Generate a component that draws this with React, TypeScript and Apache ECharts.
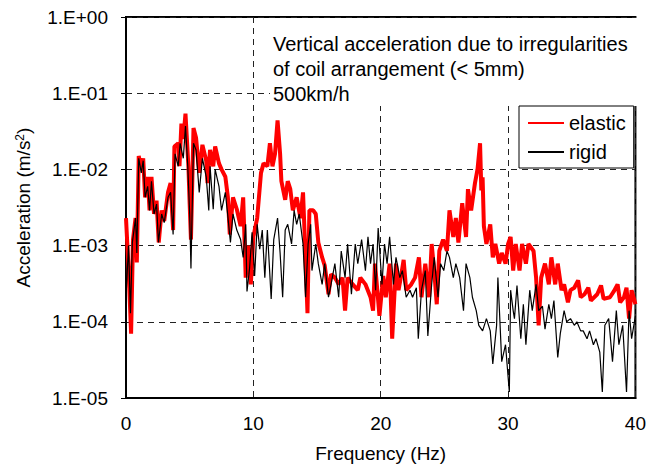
import React, { useEffect, useRef } from "react";
import * as echarts from "echarts";

const xTicks = [0, 10, 20, 30, 40];
const yTickLabels = ["1.E-05", "1.E-04", "1.E-03", "1.E-02", "1.E-01", "1.E+00"];
const seriesNames = ["elastic", "rigid"];
const annotationLines = [
  "Vertical acceleration due to irregularities",
  "of coil arrangement (< 5mm)",
  "500km/h",
];

const elasticFreq = [
  0.0, 0.2, 0.4, 0.55, 0.75, 0.85, 1.0, 1.2, 1.35, 1.5, 1.7, 1.85, 2.0, 2.2, 2.4, 2.57, 2.8, 3.0, 3.3, 3.5,
  3.7, 3.8, 4.1, 4.2, 4.35, 4.5, 4.67, 4.9, 5.0, 5.1, 5.3, 5.5, 5.75, 6.0, 6.3, 6.4, 6.6, 6.85, 7.0, 7.3,
  7.5, 7.8, 8.0, 8.15, 8.4, 8.7, 9.0, 9.2, 9.4, 9.6, 9.8, 10.0, 10.3, 10.6, 10.8, 11.1, 11.3, 11.5, 11.7, 11.9,
  12.1, 12.2, 12.5, 12.7, 12.9, 13.1, 13.4, 13.7, 13.9, 14.05, 14.25, 14.4, 14.7, 14.9, 15.1, 15.4, 15.6, 15.9, 16.1, 16.4,
  16.7, 17.0, 17.2, 17.4, 17.8, 18.2, 18.4, 18.8, 19.2, 19.4, 19.55, 19.7, 19.9, 20.2, 20.4, 20.7, 20.9, 21.2, 21.4, 21.6,
  21.8, 22.0, 22.4, 22.7, 23.0, 23.2, 23.5, 23.8, 24.0, 24.2, 24.4, 24.6, 24.9, 25.2, 25.4, 25.7, 25.9, 26.1, 26.4, 26.7,
  26.85, 27.1, 27.4, 27.6, 27.8, 27.9, 28.0, 28.1, 28.3, 28.6, 28.8, 29.0, 29.3, 29.5, 29.8, 30.0, 30.2, 30.4, 30.6, 30.9,
  31.1, 31.4, 31.6, 32.0, 32.2, 32.4, 32.6, 32.9, 33.2, 33.4, 33.7, 33.9, 34.2, 34.4, 34.7, 34.9, 35.2, 35.5, 35.7, 36.0,
  36.3, 36.5, 37.0, 37.3, 37.5, 38.0, 38.3, 38.6, 38.8, 39.1, 39.3, 39.5, 39.7, 40.0,
];
const elasticVals = [
  2.3e-3, 5e-4, 7e-5, 1.2e-3, 2.3e-3, 6e-4, 1.5e-2, 1.0e-2, 1.4e-2, 4.3e-3, 8e-3, 2.9e-3, 8e-3, 2.6e-3, 3.9e-3, 1.1e-3, 2.9e-3, 2.1e-3, 5e-3, 6.6e-3,
  1.6e-3, 2e-2, 2.2e-2, 1.1e-2, 4e-2, 2.5e-2, 5.4e-2, 1.1e-2, 3.5e-3, 1.2e-3, 3.5e-2, 2.6e-2, 9e-3, 2.1e-2, 1.3e-2, 6.6e-3, 1.8e-2, 1.1e-2, 2e-2, 1.2e-2,
  1.0e-2, 8e-3, 4.3e-3, 1.4e-3, 4.3e-3, 3e-3, 1.8e-3, 4.3e-3, 3.8e-4, 1e-3, 3.1e-4, 1.3e-3, 2.3e-3, 9e-3, 1.2e-2, 1.1e-2, 2.2e-2, 1.1e-2, 1.6e-2, 4.4e-2,
  1.6e-2, 7e-3, 4e-3, 7e-3, 5.5e-3, 2.9e-3, 4.3e-3, 2.3e-3, 5e-3, 1.1e-3, 1.3e-4, 2.9e-3, 2.9e-3, 2.6e-3, 1.1e-3, 7e-4, 5.5e-4, 2.3e-4, 4.2e-4, 3.8e-4,
  3.1e-4, 3.8e-4, 1.4e-4, 3.8e-4, 3.1e-4, 2.6e-4, 3.8e-4, 3.1e-4, 2.1e-4, 1.4e-4, 5.8e-4, 3e-4, 1.2e-4, 4e-4, 2.1e-4, 5.8e-4, 6e-5, 5.8e-4, 2.6e-4, 4e-4,
  6.5e-4, 2.6e-4, 3.1e-4, 3.8e-4, 7e-4, 2.1e-4, 5.8e-4, 2.1e-4, 1.05e-3, 4.7e-4, 1.7e-4, 8.5e-4, 1.2e-3, 8.5e-4, 2.9e-3, 1.3e-3, 2.3e-3, 1.1e-3, 3.6e-3, 1.3e-3,
  5.5e-3, 2.9e-3, 6.6e-3, 1e-2, 2.2e-2, 5.3e-3, 7.9e-3, 1.8e-3, 1.05e-3, 1.9e-3, 7e-4, 1.05e-3, 5.8e-4, 8e-4, 5.8e-4, 1.05e-3, 1.3e-3, 4.7e-4, 1.05e-3, 4.7e-4,
  1.05e-3, 5.8e-4, 1.05e-3, 8.5e-4, 3.8e-4, 9e-5, 3.8e-4, 5.8e-4, 3.1e-4, 7e-4, 3.1e-4, 5.8e-4, 2.6e-4, 3.1e-4, 1.8e-4, 2.6e-4, 2.8e-4, 3.5e-4, 2.1e-4, 2.3e-4,
  2.8e-4, 1.9e-4, 2.3e-4, 3e-4, 2.0e-4, 2.1e-4, 2.5e-4, 3.1e-4, 1.8e-4, 2.1e-4, 2.8e-4, 1.1e-4, 2.6e-4, 1.7e-4,
];

const rigidFreq = [
  0.0, 0.2, 0.35, 0.5, 0.75, 0.85, 1.0, 1.2, 1.35, 1.5, 1.7, 1.85, 2.0, 2.2, 2.4, 2.55, 2.8, 3.0, 3.3, 3.5,
  3.7, 3.85, 4.1, 4.25, 4.5, 4.67, 4.85, 5.0, 5.1, 5.3, 5.5, 5.75, 6.0, 6.3, 6.5, 6.6, 6.85, 7.0, 7.3, 7.5,
  7.8, 8.0, 8.2, 8.4, 8.7, 9.0, 9.2, 9.4, 9.5, 9.7, 9.9, 10.1, 10.3, 10.5, 10.7, 10.9, 11.1, 11.4, 11.6, 11.9,
  12.1, 12.3, 12.5, 12.7, 13.0, 13.2, 13.4, 13.6, 13.9, 14.1, 14.3, 14.5, 14.6, 14.9, 15.1, 15.4, 15.6, 15.9, 16.1, 16.4,
  16.7, 16.9, 17.2, 17.4, 17.7, 18.0, 18.2, 18.5, 18.8, 19.0, 19.2, 19.4, 19.6, 19.8, 20.1, 20.3, 20.5, 20.7, 21.0, 21.2,
  21.5, 21.7, 22.0, 22.3, 22.5, 22.8, 22.95, 23.2, 23.5, 23.7, 24.0, 24.2, 24.5, 24.7, 24.95, 25.2, 25.4, 25.7, 25.9, 26.2,
  26.5, 26.7, 27.0, 27.2, 27.5, 27.7, 28.0, 28.3, 28.6, 28.8, 29.1, 29.2, 29.3, 29.5, 29.8, 30.0, 30.1, 30.2, 30.4, 30.5,
  30.7, 31.0, 31.2, 31.4, 31.7, 31.9, 32.2, 32.4, 32.7, 32.9, 33.2, 33.4, 33.6, 33.9, 34.1, 34.4, 34.6, 34.9, 35.2, 35.4,
  35.7, 35.9, 36.2, 36.4, 36.7, 36.9, 37.2, 37.4, 37.6, 37.9, 38.2, 38.5, 38.7, 39.0, 39.3, 39.5, 39.7, 40.0,
];
const rigidVals = [
  2.1e-4, 1.0e-3, 1.3e-4, 1.1e-3, 2.3e-3, 8e-4, 1.4e-2, 9e-3, 1.3e-2, 4.3e-3, 6e-3, 2.9e-3, 7e-3, 2.6e-3, 3.5e-3, 1.1e-3, 2.6e-3, 2e-3, 4.3e-3, 5e-3,
  1.4e-3, 1.6e-2, 1.1e-2, 2.2e-2, 1.4e-2, 3.7e-2, 1.1e-2, 2.6e-3, 5e-4, 2.2e-2, 1.8e-2, 5e-3, 1.4e-2, 8e-3, 2.9e-3, 1.1e-2, 3e-3, 1e-2, 6e-3, 2.9e-3,
  5e-3, 2.4e-3, 1.1e-3, 2.6e-3, 1.6e-3, 1.2e-3, 7e-4, 1.9e-3, 2.5e-4, 5e-4, 1.5e-3, 4e-4, 1.9e-3, 9e-4, 1.6e-3, 3.8e-4, 1.6e-3, 2e-4, 1.2e-3, 2.3e-3,
  8e-4, 2.1e-4, 1.6e-3, 1.9e-3, 1.05e-3, 2.9e-3, 1.9e-3, 2.6e-3, 1.05e-3, 2.1e-4, 1.05e-3, 1.9e-3, 4.7e-4, 1.05e-3, 5.8e-4, 3.1e-4, 5.8e-4, 2.1e-4, 3.1e-4, 5.8e-4,
  2.1e-4, 8.5e-4, 3.8e-4, 1.05e-3, 2.3e-4, 1.05e-3, 5.8e-4, 1.2e-3, 4.7e-4, 1.3e-3, 5.8e-4, 1.05e-3, 2.6e-4, 1.7e-3, 3.1e-4, 1.05e-3, 5.8e-4, 1.3e-3, 3.1e-4, 7e-4,
  3.8e-4, 4.7e-4, 2.1e-4, 2.6e-4, 2.1e-4, 2.8e-4, 6e-5, 2.6e-4, 4.7e-4, 6.5e-5, 3.1e-4, 7e-4, 2.1e-4, 5.8e-4, 4.7e-4, 8.5e-4, 7e-4, 3.8e-4, 5.8e-4, 3.8e-4,
  1.4e-4, 5.8e-4, 3.8e-4, 2.1e-4, 1.4e-4, 9e-5, 7.6e-5, 1.1e-4, 7.6e-5, 2.8e-5, 9e-5, 3.8e-4, 1.7e-4, 3e-5, 5e-5, 1.9e-5, 1.2e-5, 2.6e-4, 1.4e-4, 1.1e-4,
  3e-4, 6e-5, 1.7e-4, 5e-5, 2.6e-4, 1.4e-4, 3.1e-4, 1.4e-4, 1.6e-4, 8e-5, 1.7e-4, 1.1e-4, 1.9e-4, 3.4e-5, 7e-5, 1.4e-4, 1e-4, 1.1e-4, 9e-5, 1e-4,
  7.6e-5, 7.6e-5, 6e-5, 7.6e-5, 5e-5, 6e-5, 4e-5, 1.2e-5, 9e-5, 1.1e-4, 3e-5, 1.4e-4, 5e-5, 9e-5, 1.2e-5, 1.4e-4, 6e-5, 1.2e-4,
];

const FONT = "Liberation Sans, Arial, sans-serif";

export default function App() {
  const ref = useRef<HTMLDivElement>(null);
  useEffect(() => {
    if (!ref.current) return;
    const chart = echarts.init(ref.current, undefined, { renderer: "svg" });
    const elasticData = elasticFreq.map((f, i) => [f, elasticVals[i]]);
    const rigidData = rigidFreq.map((f, i) => [f, rigidVals[i]]);
    const dashed = { color: "#222", width: 1, type: [6, 5] as number[] };
    chart.setOption({
      animation: false,
      backgroundColor: "#fff",
      textStyle: { fontFamily: FONT },
      grid: {
        left: 126, right: 9, top: 17, bottom: 75,
        show: true, borderColor: "#000", borderWidth: 2, backgroundColor: "transparent",
      },
      xAxis: {
        type: "value",
        min: xTicks[0],
        max: xTicks[xTicks.length - 1],
        interval: 10,
        name: "Frequency (Hz)",
        nameLocation: "middle",
        nameGap: 46,
        nameTextStyle: { fontSize: 19, color: "#000", fontFamily: FONT },
        axisLine: { show: true, lineStyle: { color: "#000", width: 2 } },
        axisTick: { show: false },
        axisLabel: { fontSize: 19, color: "#000", margin: 16, fontFamily: FONT },
        splitLine: { show: true, lineStyle: dashed },
      },
      yAxis: {
        type: "log",
        logBase: 10,
        min: 1e-5,
        max: 1,
        name: "Acceleration (m/s{sup|2})",
        nameLocation: "middle",
        nameGap: 93,
        nameRotate: 90,
        nameTextStyle: {
          fontSize: 19, color: "#000", fontFamily: FONT,
          rich: { sup: { fontSize: 12, verticalAlign: "top", color: "#000", fontFamily: FONT } },
        },
        axisLine: { show: true, lineStyle: { color: "#000", width: 2 } },
        axisTick: { show: true, inside: false, length: 5, lineStyle: { color: "#000", width: 1 } },
        axisLabel: {
          fontSize: 19, color: "#000", margin: 18, fontFamily: FONT,
          formatter: (v: number) => {
            const e = Math.round(Math.log10(v));
            return yTickLabels[e + 5] ?? "";
          },
        },
        splitLine: { show: true, lineStyle: dashed },
      },
      legend: {
        orient: "vertical",
        left: 519,
        top: 106,
        z: 60,
        zlevel: 0,
        data: seriesNames,
        backgroundColor: "#fff",
        borderColor: "#000",
        borderWidth: 1,
        padding: [7, 8, 6, 8],
        itemGap: 9,
        itemWidth: 36,
        itemHeight: 14,
        itemStyle: { opacity: 0 },
        textStyle: { fontSize: 20, color: "#000", lineHeight: 20, fontFamily: FONT },
      },
      graphic: [
        {
          type: "rect",
          shape: { x: 270, y: 18, width: 369, height: 88 },
          style: { fill: "#fff" },
          z: 50,
        },
        {
          type: "text",
          x: 273,
          y: 31,
          z: 51,
          style: {
            text: annotationLines.join("\n"),
            fontSize: 20,
            lineHeight: 25,
            fill: "#000",
            fontFamily: FONT,
            verticalAlign: "top",
          },
        },
      ],
      series: [
        {
          name: seriesNames[0],
          type: "line",
          data: elasticData,
          showSymbol: false,
          symbol: "none",
          lineStyle: { color: "#ff0000", width: 4 },
          itemStyle: { color: "#ff0000" },
          z: 2,
        },
        {
          name: seriesNames[1],
          type: "line",
          data: rigidData,
          showSymbol: false,
          symbol: "none",
          lineStyle: { color: "#000", width: 1.2 },
          itemStyle: { color: "#000" },
          z: 3,
        },
      ],
    });
    return () => chart.dispose();
  }, []);
  return (
    <div
      ref={ref}
      style={{ position: "absolute", left: 0, top: 0, width: 649, height: 473 }}
    />
  );
}
